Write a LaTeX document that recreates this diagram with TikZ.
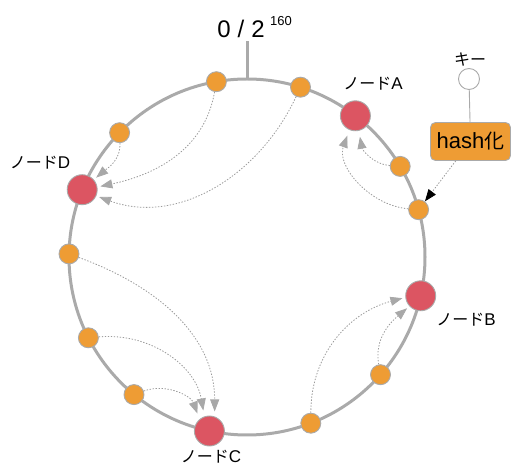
\documentclass[tikz,border=0pt]{standalone}
\usepackage{fontspec}
\setmainfont{Liberation Sans}
\newfontfamily\jp{Noto Sans CJK JP}
\usetikzlibrary{arrows.meta}
\definecolor{ringgray}{HTML}{AAAAAA}
\definecolor{dotgray}{HTML}{9A9A9A}
\definecolor{tipgray}{HTML}{A8A8A8}
\definecolor{orng}{HTML}{EE9C34}
\definecolor{nodered}{HTML}{DC5562}
\newcommand{\kana}[1]{{\jp\fontsize{16}{16}\selectfont #1}}
\begin{document}
\begin{tikzpicture}[x=1pt,y=1pt,
  small/.style={circle, fill=orng, draw=ringgray, line width=0.9pt, minimum size=20pt, inner sep=0pt},
  big/.style={circle, fill=nodered, draw=ringgray, line width=0.9pt, minimum size=30pt, inner sep=0pt},
  flow/.style={draw=dotgray, line width=0.8pt, dash pattern=on 1.4pt off 1.6pt,
    -{Triangle[length=12pt,width=9pt,color=tipgray]}},
  lbl/.style={font=\fontsize{17}{17}\selectfont, inner sep=0pt}
]
\useasboundingbox (0,0) rectangle (512,466);
% ring
\draw[ringgray, line width=3pt] (247,209) circle[radius=178];
\coordinate (ringtop) at (247,387);
\coordinate (tickend) at (247,425);
\draw[ringgray, line width=3pt] (ringtop) -- (tickend);
\node[inner sep=0pt, font=\fontsize{24}{24}\selectfont] (zero) at (241,437) {0\hspace{7pt}/\hspace{7pt}2};
\node[inner sep=0pt, anchor=west, font=\fontsize{13}{13}\selectfont] (exp) at (270,445) {160};

% small nodes
\node[small] (O1) at (216.4,384.3) {};
\node[small] (O2) at (300.5,378.8) {};
\node[small] (O3) at (400.2,299.6) {};
\node[small] (O4) at (418.6,256.3) {};
\node[small] (O9) at (380.5,91.3) {};
\node[small] (O10) at (310.8,42.8) {};
\node[small] (O8) at (134.0,71.4) {};
\node[small] (O7) at (88.4,128.2) {};
\node[small] (O6) at (69.0,212.1) {};
\node[small] (O5) at (119.6,333.3) {};
% big nodes
\node[big] (A) at (355.4,350.2) {};
\node[big] (B) at (420.7,170.2) {};
\node[big] (C) at (209.4,35.0) {};
\node[big] (D) at (82.2,276.3) {};

% labels
\node[lbl] (lA) at (373,382) {\kana{ノード}A};
\node[lbl] (lB) at (466,146) {\kana{ノード}B};
\node[lbl] (lC) at (211,9) {\kana{ノード}C};
\node[lbl] (lD) at (40,303) {\kana{ノード}D};

% key and hash
\node[lbl] (lkey) at (470,406) {\kana{キー}};
\node[circle, fill=white, draw=ringgray, line width=0.9pt, minimum size=21pt, inner sep=0pt] (key) at (469,387) {};
\node[fill=orng, draw=ringgray, line width=0.9pt, rounded corners=5pt, minimum width=80pt, minimum height=38pt, inner sep=0pt, font=\fontsize{22}{22}\selectfont] (hash) at (470.5,324.5) {hash{\jp\fontsize{20}{20}\selectfont 化}};
\draw[ringgray, line width=0.9pt] (key) -- (hash);
\draw[draw=dotgray, line width=0.8pt, dash pattern=on 1.4pt off 1.6pt, -{Triangle[length=12pt,width=9pt,color=black]}] (hash) -- (O4);

% flows to D
\draw[flow, shorten >=3pt] (O5) to[out=-88, in=40] (D.41);
\draw[flow, shorten >=3pt] (O1) to[out=-100, in=12] (D.10);
\draw[flow, shorten >=3pt] (O2) to[out=-115, in=-20] (D.-24);
% flows to A
\draw[flow, shorten >=6pt] (O3) to[out=175, in=-80] (A.-77);
\draw[flow, shorten >=6pt] (O4) to[out=175, in=-110] (A.-113);
% flows to B
\draw[flow, shorten >=3pt] (O10) to[out=90, in=195] (B.186);
\draw[flow, shorten >=3pt] (O9) to[out=100, in=220] (B.223);
% flows to C
\draw[flow, shorten >=6pt] (O8) to[out=20, in=110] (C.130);
\draw[flow, shorten >=6pt] (O7) to[out=5, in=100] (C.109);
\draw[flow, shorten >=5pt] (O6) to[out=-20, in=90] (C.70);
\end{tikzpicture}
\end{document}
